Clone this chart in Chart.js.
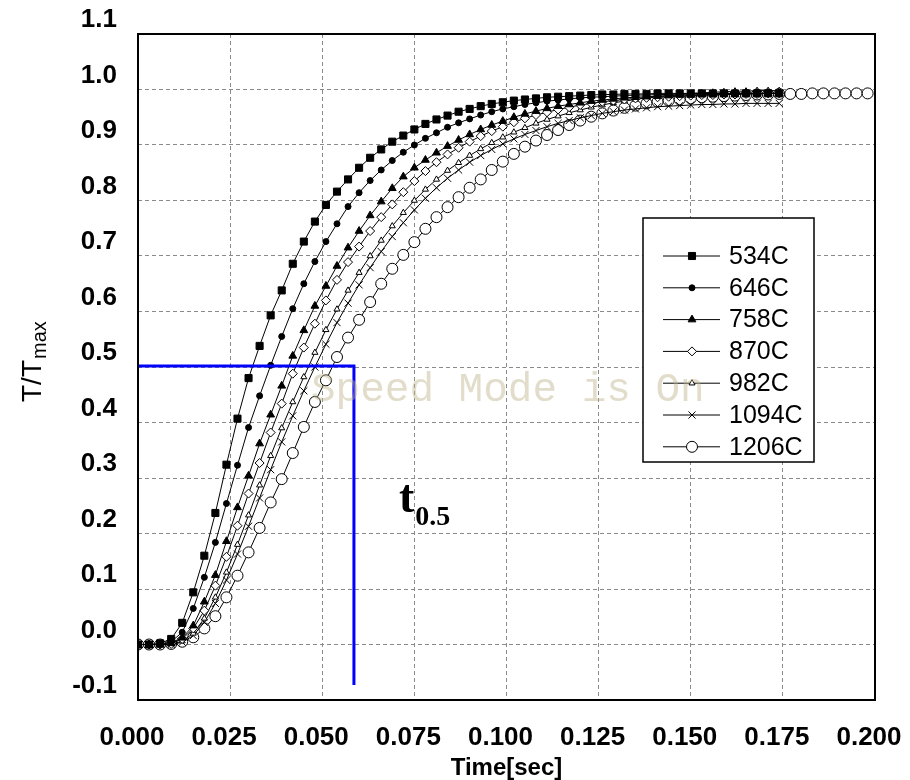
<!DOCTYPE html>
<html>
<head>
<meta charset="utf-8">
<title>T/Tmax vs time</title>
<script src="https://cdn.jsdelivr.net/npm/chart.js@4.4.1/dist/chart.umd.min.js"></script>
<style>
  body { margin: 0; background: #fff; }
  #wrap { width: 910px; height: 780px; }
</style>
</head>
<body>
<div id="wrap"><canvas id="myChart" width="910" height="780"></canvas></div>
<script>
// sample times (sec)
const time = [0.000,0.003,0.006,0.009,0.012,0.015,0.018,0.021,0.024,0.027,
  0.030,0.033,0.036,0.039,0.042,0.045,0.048,0.051,0.054,0.057,
  0.060,0.063,0.066,0.069,0.072,0.075,0.078,0.081,0.084,0.087,
  0.090,0.093,0.096,0.099,0.102,0.105,0.108,0.111,0.114,0.117,
  0.120,0.123,0.126,0.129,0.132,0.135,0.138,0.141,0.144,0.147,
  0.150,0.153,0.156,0.159,0.162,0.165,0.168,0.171,0.174,0.177,
  0.180,0.183,0.186,0.189,0.192,0.195,0.198];

const seriesNames = ['534C', '646C', '758C', '870C', '982C', '1094C', '1206C'];

// T/Tmax for each temperature
const v534 = [0.000,0.000,0.002,0.010,0.039,0.094,0.160,0.237,0.324,0.407,
  0.480,0.538,0.593,0.638,0.686,0.726,0.762,0.792,0.816,0.838,
  0.859,0.877,0.892,0.906,0.917,0.928,0.938,0.946,0.953,0.960,
  0.965,0.970,0.974,0.977,0.980,0.982,0.984,0.986,0.987,0.988,
  0.989,0.990,0.991,0.991,0.992,0.992,0.992,0.993,0.993,0.993,
  0.993,0.993,0.993,0.993,0.993,0.993,0.993,0.993,0.993];
const v646 = [0.000,0.000,0.000,0.005,0.022,0.065,0.121,0.184,0.254,0.323,
  0.391,0.448,0.503,0.555,0.605,0.650,0.690,0.726,0.758,0.789,
  0.814,0.836,0.855,0.872,0.887,0.900,0.912,0.922,0.932,0.940,
  0.947,0.954,0.960,0.965,0.969,0.973,0.976,0.979,0.981,0.983,
  0.985,0.986,0.987,0.988,0.989,0.990,0.990,0.991,0.991,0.992,
  0.992,0.993,0.993,0.993,0.993,0.993,0.993,0.993,0.993];
const v758 = [0.000,0.000,0.000,0.002,0.012,0.034,0.077,0.125,0.186,0.247,
  0.304,0.362,0.414,0.466,0.520,0.566,0.610,0.646,0.682,0.715,
  0.745,0.773,0.798,0.822,0.843,0.859,0.873,0.886,0.898,0.909,
  0.919,0.928,0.936,0.943,0.950,0.956,0.961,0.966,0.970,0.973,
  0.976,0.979,0.981,0.983,0.985,0.986,0.987,0.988,0.989,0.990,
  0.990,0.991,0.991,0.992,0.992,0.993,0.993,0.993,0.993];
const v870 = [0.000,0.000,0.000,0.001,0.010,0.029,0.061,0.106,0.158,0.214,
  0.272,0.327,0.382,0.434,0.488,0.535,0.578,0.620,0.657,0.689,
  0.717,0.745,0.770,0.793,0.815,0.835,0.853,0.869,0.883,0.895,
  0.906,0.916,0.925,0.933,0.941,0.948,0.954,0.959,0.964,0.968,
  0.972,0.975,0.978,0.980,0.982,0.984,0.985,0.986,0.987,0.988,
  0.989,0.990,0.990,0.991,0.991,0.992,0.992,0.993,0.993];
const v982 = [0.000,0.000,0.000,0.000,0.006,0.020,0.047,0.085,0.130,0.180,
  0.233,0.287,0.340,0.390,0.437,0.482,0.526,0.567,0.604,0.638,
  0.670,0.700,0.728,0.754,0.778,0.800,0.820,0.838,0.854,0.868,
  0.881,0.893,0.904,0.914,0.923,0.931,0.939,0.946,0.952,0.958,
  0.963,0.968,0.972,0.976,0.979,0.982,0.985,0.987,0.989,0.991,
  0.993,0.994,0.995,0.996,0.997,0.997,0.998,0.998,0.998];
const v1094 = [0.000,0.000,0.000,0.000,0.004,0.016,0.040,0.074,0.116,0.163,
  0.213,0.264,0.315,0.365,0.412,0.457,0.500,0.541,0.580,0.615,
  0.648,0.679,0.708,0.735,0.760,0.783,0.804,0.823,0.840,0.855,
  0.869,0.881,0.892,0.902,0.911,0.919,0.926,0.933,0.939,0.944,
  0.949,0.953,0.957,0.960,0.963,0.965,0.967,0.969,0.970,0.971,
  0.972,0.973,0.973,0.974,0.974,0.975,0.975,0.975,0.975];
const v1206 = [0.000,0.000,0.000,0.001,0.005,0.013,0.029,0.051,0.085,0.124,
  0.166,0.210,0.256,0.298,0.345,0.392,0.437,0.476,0.518,0.553,
  0.585,0.617,0.650,0.677,0.702,0.725,0.749,0.770,0.788,0.806,
  0.823,0.838,0.855,0.870,0.884,0.897,0.908,0.918,0.927,0.936,
  0.944,0.951,0.957,0.962,0.967,0.971,0.975,0.978,0.980,0.982,
  0.984,0.986,0.987,0.988,0.989,0.990,0.991,0.991,0.992,0.992,
  0.992,0.993,0.993,0.993,0.993,0.993,0.993];

const seriesValues = [v534, v646, v758, v870, v982, v1094, v1206];

// the t0.5 guide (blue)
const halfLevel = 0.502;
const halfTime = 0.0586;
const guideBottom = -0.073;

// axes
const xMin = 0, xMax = 0.2, xStep = 0.025;
const yMin = -0.1, yMax = 1.1, yStep = 0.1;

const markers = [
  { pointStyle: 'rect', radius: 5, fill: '#000' },
  { pointStyle: 'circle', radius: 3, fill: '#000' },
  { pointStyle: 'triangle', radius: 4.5, fill: '#000' },
  { pointStyle: 'rectRot', radius: 4.5, fill: '#fff' },
  { pointStyle: 'triangle', radius: 3.5, fill: '#fff' },
  { pointStyle: 'crossRot', radius: 5, fill: '#fff' },
  { pointStyle: 'circle', radius: 5.5, fill: '#fff' }
];

const datasets = seriesNames.map(function(name, k) {
  return {
    label: name,
    data: seriesValues[k].map(function(v, i) { return { x: time[i], y: v }; }),
    borderColor: '#000',
    borderWidth: 1,
    pointStyle: markers[k].pointStyle,
    pointRadius: markers[k].radius,
    pointBackgroundColor: markers[k].fill,
    pointBorderColor: '#000',
    pointBorderWidth: 1,
    tension: 0,
    order: 1
  };
});

datasets.push({
  label: 't0.5',
  isGuide: true,
  data: [{ x: xMin, y: halfLevel }, { x: halfTime, y: halfLevel }, { x: halfTime, y: guideBottom }],
  borderColor: '#0000ff',
  borderWidth: 3,
  pointRadius: 0,
  tension: 0,
  order: 0
});

const sans = "'Liberation Sans', Arial, sans-serif";
const serif = "'Liberation Serif', 'Times New Roman', serif";

// frame, axis titles, legend box, labels
const extras = {
  id: 'extras',
  afterDraw(chart) {
    const ctx = chart.ctx;
    const a = chart.chartArea;
    ctx.save();

    ctx.strokeStyle = '#000';
    ctx.lineWidth = 2;
    ctx.strokeRect(a.left, a.top, a.right - a.left, a.bottom - a.top);

    // legend
    const lx = a.left + 505, ly = a.top + 184;
    ctx.fillStyle = '#fff';
    ctx.fillRect(lx, ly, 171, 244);
    ctx.lineWidth = 1.5;
    ctx.strokeRect(lx, ly, 171, 244);
    ctx.font = '25px ' + sans;
    ctx.textBaseline = 'middle';
    ctx.textAlign = 'left';
    chart.data.datasets.forEach(function(ds, i) {
      if (ds.isGuide) return;
      const yy = ly + 38 + i * 31.8;
      ctx.strokeStyle = '#000';
      ctx.lineWidth = 1;
      ctx.beginPath();
      ctx.moveTo(lx + 20, yy);
      ctx.lineTo(lx + 77, yy);
      ctx.stroke();
      ctx.fillStyle = ds.pointBackgroundColor;
      Chart.helpers.drawPoint(ctx, {
        pointStyle: ds.pointStyle, radius: ds.pointRadius, rotation: 0, borderWidth: 1
      }, lx + 49, yy);
      ctx.fillStyle = '#000';
      ctx.fillText(ds.label, lx + 86, yy + 1);
    });

    // y title T/Tmax
    ctx.save();
    ctx.translate(0, 402);
    ctx.rotate(-Math.PI / 2);
    ctx.fillStyle = '#000';
    ctx.textBaseline = 'alphabetic';
    ctx.font = '28px ' + sans;
    ctx.fillText('T/T', 0, 41);
    const w = ctx.measureText('T/T').width;
    ctx.font = '20px ' + sans;
    ctx.fillText('max', w + 1, 46);
    ctx.restore();

    // x title
    ctx.font = 'bold 24px ' + sans;
    ctx.textAlign = 'center';
    ctx.textBaseline = 'alphabetic';
    ctx.fillText('Time[sec]', (a.left + a.right) / 2, 775);

    // t0.5 label
    ctx.textAlign = 'left';
    ctx.font = 'bold 46px ' + serif;
    ctx.fillText('t', 399, 512);
    const tw = ctx.measureText('t').width;
    ctx.font = 'bold 28px ' + serif;
    ctx.fillText('0.5', 399 + tw + 1, 525);

    // watermark
    ctx.font = "41px 'Liberation Mono', monospace";
    ctx.fillStyle = 'rgba(190, 180, 140, 0.45)';
    ctx.fillText('Speed Mode is On', 311, 401);

    ctx.restore();
  }
};

function noScalePadding(s) {
  s.paddingLeft = 0;
  s.paddingRight = 0;
  s.paddingTop = 0;
  s.paddingBottom = 0;
}

const ctx = document.getElementById('myChart').getContext('2d');
const myChart = new Chart(ctx, {
  type: 'line',
  data: { datasets: datasets },
  options: {
    responsive: false,
    animation: false,
    layout: { padding: { top: 34, right: 35, left: 0, bottom: 0 } },
    plugins: { legend: { display: false }, tooltip: { enabled: false } },
    scales: {
      x: {
        type: 'linear',
        min: xMin, max: xMax,
        afterFit: function(s) { s.height = 80; noScalePadding(s); },
        grid: { color: '#8a8a8a', lineWidth: 1, drawTicks: false },
        border: { display: false, dash: [4, 3] },
        ticks: {
          stepSize: xStep, padding: 22, labelOffset: -6, color: '#000',
          maxRotation: 0, autoSkip: false,
          font: { family: sans, size: 26, weight: 'bold' },
          callback: function(v) { return Math.abs(v) < 1e-9 ? '0.000' : v.toFixed(3); }
        }
      },
      y: {
        type: 'linear',
        min: yMin, max: yMax,
        afterFit: function(s) { s.width = 138; noScalePadding(s); },
        grid: { color: '#8a8a8a', lineWidth: 1, drawTicks: false },
        border: { display: false, dash: [4, 3] },
        ticks: {
          stepSize: yStep, padding: 21, labelOffset: -14, color: '#000',
          font: { family: sans, size: 26, weight: 'bold' },
          callback: function(v) { return Math.abs(v) < 1e-9 ? '0.0' : v.toFixed(1); }
        }
      }
    }
  },
  plugins: [extras]
});
</script>
</body>
</html>
